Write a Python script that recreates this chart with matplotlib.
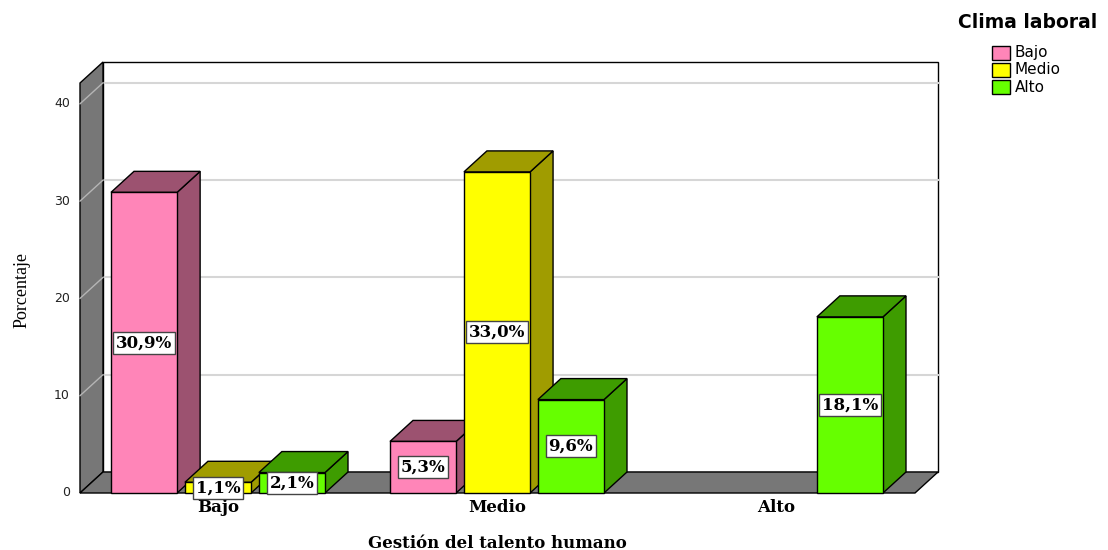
import numpy as np
import matplotlib.pyplot as plt
import matplotlib.patches as mpatches

# porcentajes por nivel de gestion (filas) y clima laboral (series)
categorias = ['Bajo', 'Medio', 'Alto']
series = ['Bajo', 'Medio', 'Alto']
clima_bajo = [30.9, 5.3, 0.0]
clima_medio = [1.1, 33.0, 0.0]
clima_alto = [2.1, 9.6, 18.1]
yticks = [0, 10, 20, 30, 40]

frente = ['#FF85B8', '#FFFF00', '#66FF00']
lado = ['#9C5270', '#A09C00', '#3E9C00']
gris = '#777777'

W, H = 1108, 550
fig = plt.figure(figsize=(W / 100, H / 100), dpi=100)
fig.patch.set_facecolor('white')

# ejes sobre la cara frontal del grafico (px)
x0, x1, y0, ytop = 80, 915, 493, 62
ax = fig.add_axes([x0 / W, (H - y0) / H, (x1 - x0) / W, (y0 - ytop) / H])
pxx = 279.0   # px por categoria
pxy = 9.73    # px por punto porcentual
xl = (x0 - 218) / pxx
xr = (x1 - 218) / pxx
ymax = (y0 - ytop) / pxy
ax.set_xlim(xl, xr)
ax.set_ylim(0, ymax)
ax.axis('off')

DX = 23 / pxx
DY = 21 / pxy

def poly(pts, fc, ec='black', lw=1, z=1):
    p = mpatches.Polygon(pts, closed=True, facecolor=fc, edgecolor=ec,
                         linewidth=lw, zorder=z, clip_on=False,
                         joinstyle='miter')
    ax.add_patch(p)

# pared del fondo
poly([(xl + DX, DY), (xr + DX, DY), (xr + DX, ymax), (xl + DX, ymax)], 'white', z=1)
for v in yticks[1:]:
    ax.plot([xl + DX, xr + DX], [v + DY, v + DY], color='#d6d6d6', lw=1.5,
            zorder=1.5, clip_on=False)

# pared lateral
poly([(xl, 0), (xl + DX, DY), (xl + DX, ymax), (xl, ymax - DY)], gris, z=2)
for v in yticks[1:]:
    ax.plot([xl, xl + DX], [v, v + DY], color='#b5b5b5', lw=1, zorder=2.5,
            clip_on=False)

# piso
poly([(xl, 0), (xr, 0), (xr + DX, DY), (xl + DX, DY)], gris, z=2)

# barras 3D
valores = [clima_bajo, clima_medio, clima_alto]
ancho = 0.237
sep = 0.265
z = 3
for i in range(len(categorias)):
    for j in range(len(series)):
        v = valores[j][i]
        if v <= 0:
            continue
        cx = i + (j - 1) * sep
        a, b = cx - ancho / 2, cx + ancho / 2
        poly([(b, 0), (b + DX, DY), (b + DX, v + DY), (b, v)], lado[j], z=z)
        poly([(a, v), (b, v), (b + DX, v + DY), (a + DX, v + DY)], lado[j], z=z)
        poly([(a, 0), (b, 0), (b, v), (a, v)], frente[j], z=z)
        ax.text(cx, v / 2, f'{v:.1f}%'.replace('.', ','), ha='center', va='center',
                fontsize=12, fontweight='bold', family='DejaVu Serif',
                zorder=z + 0.5,
                bbox=dict(boxstyle='square,pad=0.15', fc='white', ec='#444444', lw=1))
        z += 1

# etiquetas del eje y
for v in yticks:
    ax.text((70 - 218) / pxx, v, str(v), ha='right', va='center', fontsize=9,
            family='DejaVu Sans', color='#222222')

# etiquetas de categorias
for i, c in enumerate(categorias):
    ax.text(i, -15 / pxy, c, ha='center', va='center', fontsize=12,
            fontweight='bold', family='DejaVu Serif')

fig.text(497 / W, 1 - 543 / H, 'Gestión del talento humano', ha='center',
         va='center', fontsize=12, fontweight='bold', family='DejaVu Serif')
fig.text(22 / W, 1 - 290 / H, 'Porcentaje', ha='center', va='center',
         rotation=90, fontsize=13, family='Liberation Serif')

# leyenda
fig.text(1028 / W, 1 - 22 / H, 'Clima laboral', ha='center', va='center',
         fontsize=13.5, fontweight='bold', family='DejaVu Sans')
for k, s in enumerate(series):
    yc = 53 + 17 * k
    r = mpatches.Rectangle((992 / W, 1 - (yc + 7) / H), 18 / W, 14 / H,
                           transform=fig.transFigure, facecolor=frente[k],
                           edgecolor='black', linewidth=1)
    fig.add_artist(r)
    fig.text(1015 / W, 1 - yc / H, s, ha='left', va='center', fontsize=11,
             family='DejaVu Sans')

fig.savefig('out.png', dpi=100)
